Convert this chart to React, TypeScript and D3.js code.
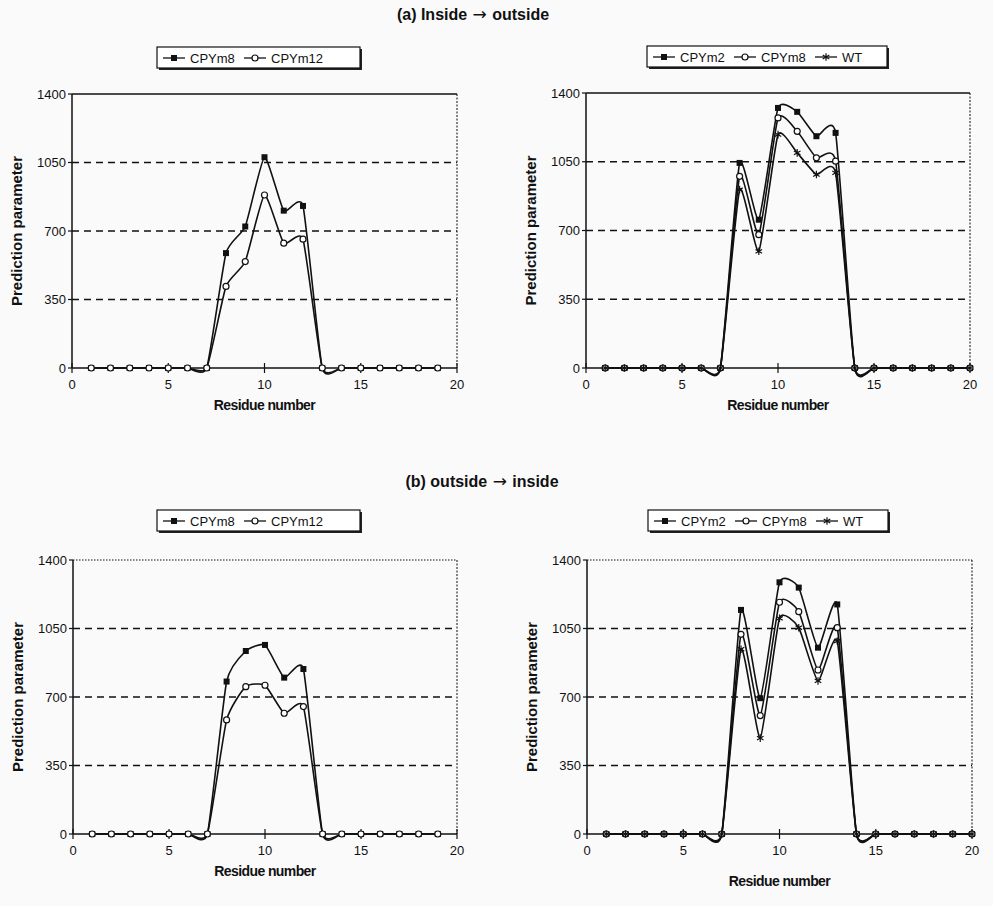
import * as d3 from 'd3';

// residue numbers (left panels have 19 residues, right panels 20)
const residues19 = [1, 2, 3, 4, 5, 6, 7, 8, 9, 10, 11, 12, 13, 14, 15, 16, 17, 18, 19];
const residues20 = [1, 2, 3, 4, 5, 6, 7, 8, 9, 10, 11, 12, 13, 14, 15, 16, 17, 18, 19, 20];

// (a) inside -> outside
const aCPYm8 = [0, 0, 0, 0, 0, 0, 0, 587, 723, 1077, 804, 828, 0, 0, 0, 0, 0, 0, 0];
const aCPYm12 = [0, 0, 0, 0, 0, 0, 0, 417, 544, 884, 638, 658, 0, 0, 0, 0, 0, 0, 0];
const aCPYm2 = [0, 0, 0, 0, 0, 0, 0, 1044, 755, 1324, 1304, 1180, 1197, 0, 0, 0, 0, 0, 0, 0];
const aCPYm8r = [0, 0, 0, 0, 0, 0, 0, 976, 679, 1273, 1205, 1070, 1053, 0, 0, 0, 0, 0, 0, 0];
const aWT = [0, 0, 0, 0, 0, 0, 0, 908, 594, 1188, 1095, 985, 993, 0, 0, 0, 0, 0, 0, 0];

// (b) outside -> inside
const bCPYm8 = [0, 0, 0, 0, 0, 0, 0, 779, 935, 966, 799, 843, 0, 0, 0, 0, 0, 0, 0];
const bCPYm12 = [0, 0, 0, 0, 0, 0, 0, 583, 753, 760, 617, 651, 0, 0, 0, 0, 0, 0, 0];
const bCPYm2 = [0, 0, 0, 0, 0, 0, 0, 1145, 694, 1286, 1259, 952, 1173, 0, 0, 0, 0, 0, 0, 0];
const bCPYm8r = [0, 0, 0, 0, 0, 0, 0, 1020, 605, 1184, 1136, 838, 1054, 0, 0, 0, 0, 0, 0, 0];
const bWT = [0, 0, 0, 0, 0, 0, 0, 944, 490, 1102, 1054, 782, 986, 0, 0, 0, 0, 0, 0, 0];

const yTicks = [0, 350, 700, 1050, 1400];
const xTicks = [0, 5, 10, 15, 20];

const FONT = '"Liberation Sans", Arial, sans-serif';

type Series = { name: string; values: number[]; marker: 'filled' | 'open' | 'star' };

function Marker({ kind, x, y }) {
    if (kind === 'filled') {
        return <rect x={x - 3} y={y - 3} width={6} height={6} fill="#111" />;
    }
    if (kind === 'open') {
        return <circle cx={x} cy={y} r={3} fill="#fff" stroke="#111" strokeWidth={1.2} />;
    }
    const p = d3.symbol().type(d3.symbolAsterisk).size(40)();
    return <path d={p} transform={`translate(${x},${y})`} fill="none" stroke="#111" strokeWidth={1.2} />;
}

function Legend({ x, y, w, series }) {
    let cx = x + 6;
    const items = series.map((s) => {
        const item = { s, x: cx };
        cx += 30 + s.name.length * 8.6 + 8;
        return item;
    });
    return (
        <g>
            <rect x={x + 2} y={y + 2} width={w} height={21} fill="#222" />
            <rect x={x} y={y} width={w} height={21} fill="#fff" stroke="#111" strokeWidth={1.2} />
            {items.map(({ s, x: ix }) => (
                <g key={s.name}>
                    <line x1={ix} x2={ix + 22} y1={y + 11} y2={y + 11} stroke="#111" strokeWidth={1.3} />
                    <Marker kind={s.marker} x={ix + 11} y={y + 11} />
                    <text x={ix + 27} y={y + 15.5} fontSize={13} fontFamily={FONT} fill="#111">{s.name}</text>
                </g>
            ))}
        </g>
    );
}

function Panel({ left, right, top, bottom, residues, series, legendX, legendW, legendY, dottedTop, xLabelY }) {
    const x = d3.scaleLinear().domain([0, 20]).range([left, right]);
    const y = d3.scaleLinear().domain([0, 1400]).range([bottom, top]);
    const line = d3.line<number>()
        .x((d, i) => x(residues[i]))
        .y((d) => y(d))
        .curve(d3.curveCardinal.tension(0.5));

    return (
        <g>
            {/* frame */}
            <line x1={left} x2={right} y1={top} y2={top} stroke="#111" strokeWidth={dottedTop ? 1.2 : 1.5}
                strokeDasharray={dottedTop ? '1.5,1.5' : undefined} />
            <line x1={right} x2={right} y1={top} y2={bottom} stroke="#222" strokeWidth={1.1} strokeDasharray="2,1.5" />
            {/* gridlines */}
            {yTicks.filter((t) => t > 0 && t < 1400).map((t) => (
                <line key={t} x1={left} x2={right} y1={y(t)} y2={y(t)} stroke="#111" strokeWidth={1.4} strokeDasharray="7,5" />
            ))}
            {/* y axis */}
            <line x1={left} x2={left} y1={top} y2={bottom} stroke="#111" strokeWidth={1.5} />
            {yTicks.map((t) => (
                <g key={t}>
                    <line x1={left - 4} x2={left} y1={y(t)} y2={y(t)} stroke="#111" strokeWidth={1.2} />
                    <text x={left - 6} y={y(t) + 4.5} textAnchor="end" fontSize={13} fontFamily={FONT} fill="#111">{t}</text>
                </g>
            ))}
            {/* x axis */}
            <line x1={left} x2={right} y1={bottom} y2={bottom} stroke="#111" strokeWidth={1.5} />
            {xTicks.map((t) => (
                <g key={t}>
                    <line x1={x(t)} x2={x(t)} y1={bottom - 5} y2={bottom + 5} stroke="#111" strokeWidth={1.2} />
                    <text x={x(t)} y={bottom + 21} textAnchor="middle" fontSize={13} fontFamily={FONT} fill="#111">{t}</text>
                </g>
            ))}
            <text x={(left + right) / 2} y={xLabelY} textAnchor="middle" fontSize={14} fontWeight={600}
                fontFamily={FONT} fill="#111" letterSpacing={-0.6}>Residue number</text>
            <text transform={`translate(${left - 50},${(top + bottom) / 2}) rotate(-90)`} textAnchor="middle"
                fontSize={15} fontWeight={600} fontFamily={FONT} fill="#111">Prediction parameter</text>
            {/* series */}
            {series.map((s) => (
                <g key={s.name}>
                    <path d={line(s.values)} fill="none" stroke="#111" strokeWidth={1.6} />
                    {s.values.map((v, i) => (
                        <Marker key={i} kind={s.marker} x={x(residues[i])} y={y(v)} />
                    ))}
                </g>
            ))}
            <Legend x={legendX} y={legendY} w={legendW} series={series} />
        </g>
    );
}

function Title({ x, y, before, after }) {
    return (
        <text x={x} y={y} textAnchor="middle" fontSize={16} fontWeight={600} fontFamily={FONT} fill="#111">
            {before}
            <tspan fontFamily='"DejaVu Sans", sans-serif' fontWeight={400} fontSize={17}> → </tspan>
            {after}
        </text>
    );
}

export default function App() {
    const leftA: Series[] = [
        { name: 'CPYm8', values: aCPYm8, marker: 'filled' },
        { name: 'CPYm12', values: aCPYm12, marker: 'open' },
    ];
    const rightA: Series[] = [
        { name: 'CPYm2', values: aCPYm2, marker: 'filled' },
        { name: 'CPYm8', values: aCPYm8r, marker: 'open' },
        { name: 'WT', values: aWT, marker: 'star' },
    ];
    const leftB: Series[] = [
        { name: 'CPYm8', values: bCPYm8, marker: 'filled' },
        { name: 'CPYm12', values: bCPYm12, marker: 'open' },
    ];
    const rightB: Series[] = [
        { name: 'CPYm2', values: bCPYm2, marker: 'filled' },
        { name: 'CPYm8', values: bCPYm8r, marker: 'open' },
        { name: 'WT', values: bWT, marker: 'star' },
    ];

    return (
        <svg width={993} height={906} style={{ position: 'absolute', left: 0, top: 0, background: '#fff' }}>
            <rect width={993} height={906} fill="#fafafa" />
            <Title x={473} y={20} before="(a) Inside" after="outside" />
            <Title x={482} y={487} before="(b) outside" after="inside" />

            <Panel left={72} right={457} top={94} bottom={368} residues={residues19} series={leftA}
                legendX={157} legendW={203} legendY={47} dottedTop={false} xLabelY={410} />
            <Panel left={586} right={970} top={93} bottom={368} residues={residues20} series={rightA}
                legendX={647} legendW={240} legendY={46} dottedTop={false} xLabelY={410} />
            <Panel left={73} right={457} top={560} bottom={834} residues={residues19} series={leftB}
                legendX={157} legendW={203} legendY={510} dottedTop={true} xLabelY={876} />
            <Panel left={587} right={972} top={560} bottom={834} residues={residues20} series={rightB}
                legendX={648} legendW={240} legendY={510} dottedTop={true} xLabelY={886} />
        </svg>
    );
}
